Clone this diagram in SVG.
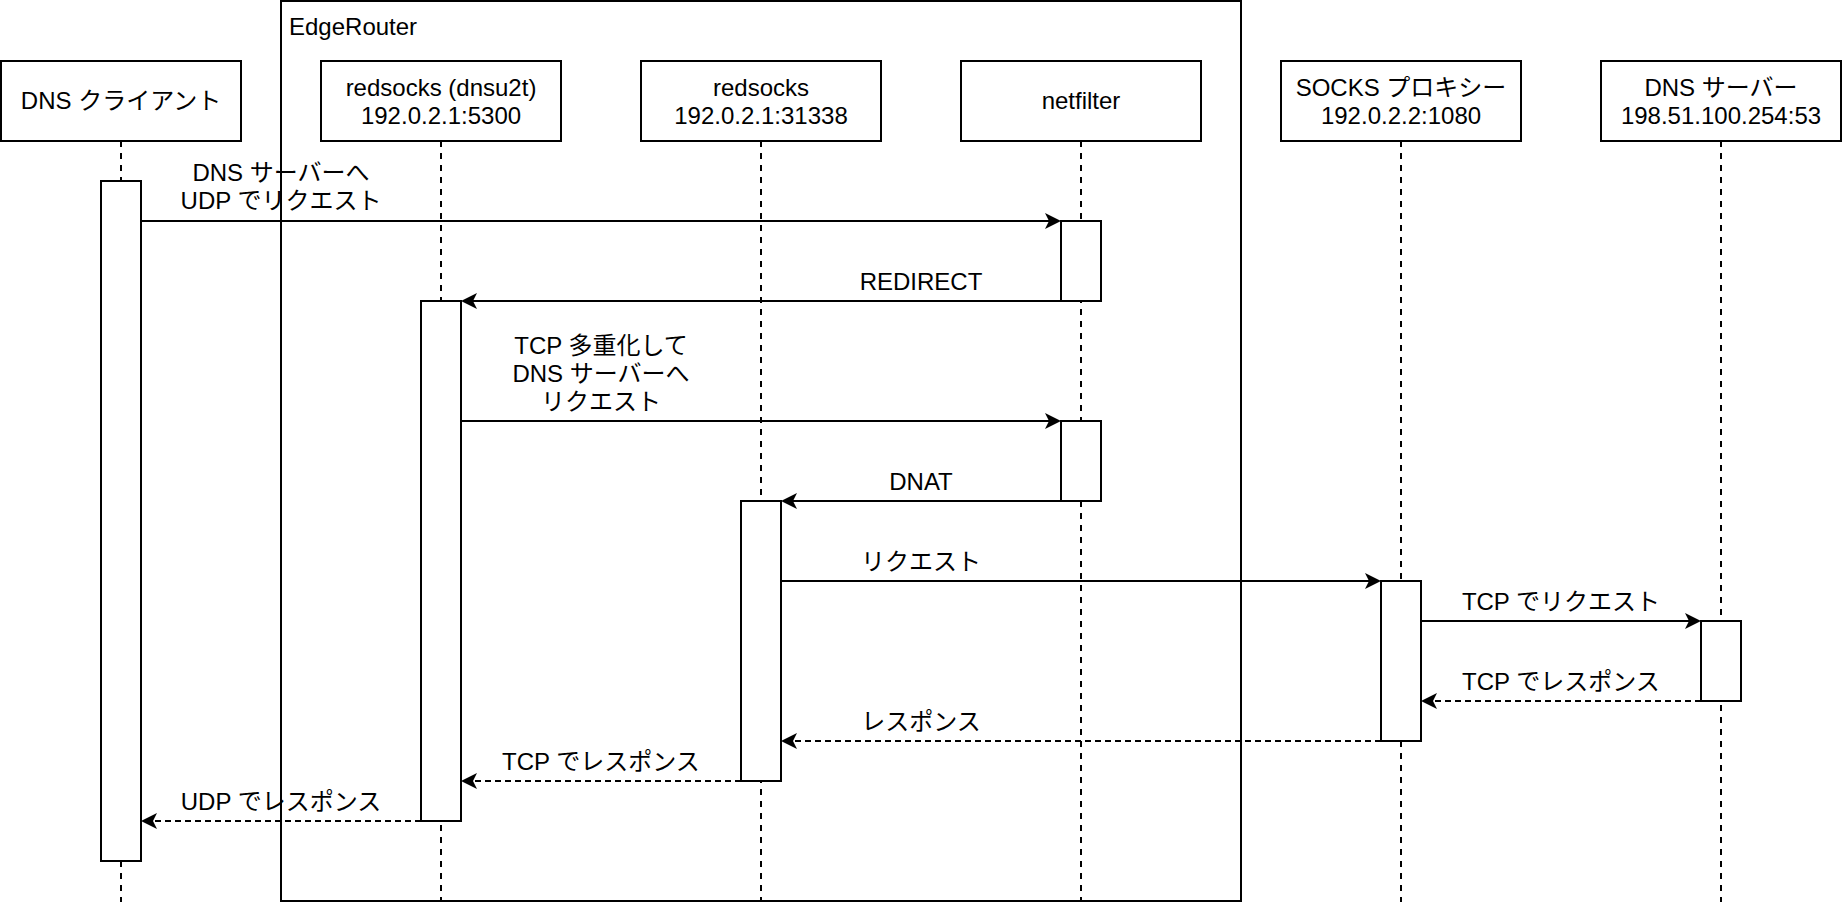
<svg xmlns="http://www.w3.org/2000/svg" width="1842" height="902" viewBox="0 0 1842 902">
<style>
  .box { fill: #ffffff; stroke: #000000; stroke-width: 2; }
  .frame { fill: none; stroke: #000000; stroke-width: 2; }
  .life { fill: none; stroke: #000000; stroke-width: 2; stroke-dasharray: 6 6; }
  .msg { fill: none; stroke: #000000; stroke-width: 2; marker-end: url(#arrow); }
  .ret { fill: none; stroke: #000000; stroke-width: 2; stroke-dasharray: 6 4; marker-end: url(#arrow); }
  text { font-family: "Liberation Sans", "Noto Sans CJK JP", Arial, sans-serif; font-size: 24px; fill: #000000; }
  .c { text-anchor: middle; }
</style>
<defs>
  <marker id="arrow" markerUnits="userSpaceOnUse" viewBox="0 0 16 16" refX="12" refY="8" markerWidth="16" markerHeight="16" orient="auto">
    <path d="M0,0 L16,8 L0,16 L4,8 Z" fill="#000000" stroke="none"/>
  </marker>
</defs>
<rect width="1842" height="902" fill="#ffffff"/>

<g id="edgerouter">
  <rect class="frame" x="281" y="1" width="960" height="900"/>
  <text x="289" y="35">EdgeRouter</text>
</g>

<g id="dns-client">
  <line class="life" x1="121" y1="141" x2="121" y2="902"/>
  <rect class="box" x="1" y="61" width="240" height="80"/>
  <text class="c" x="121" y="109">DNS クライアント</text>
  <rect class="box" x="101" y="181" width="40" height="680"/>
</g>

<g id="redsocks-dnsu2t">
  <line class="life" x1="441" y1="141" x2="441" y2="902"/>
  <rect class="box" x="321" y="61" width="240" height="80"/>
  <text class="c" x="441" y="96">redsocks (dnsu2t)</text>
  <text class="c" x="441" y="124">192.0.2.1:5300</text>
  <rect class="box" x="421" y="301" width="40" height="520"/>
</g>

<g id="redsocks">
  <line class="life" x1="761" y1="141" x2="761" y2="902"/>
  <rect class="box" x="641" y="61" width="240" height="80"/>
  <text class="c" x="761" y="96">redsocks</text>
  <text class="c" x="761" y="124">192.0.2.1:31338</text>
  <rect class="box" x="741" y="501" width="40" height="280"/>
</g>

<g id="netfilter">
  <line class="life" x1="1081" y1="141" x2="1081" y2="902"/>
  <rect class="box" x="961" y="61" width="240" height="80"/>
  <text class="c" x="1081" y="109">netfilter</text>
  <rect class="box" x="1061" y="221" width="40" height="80"/>
  <rect class="box" x="1061" y="421" width="40" height="80"/>
</g>

<g id="socks-proxy">
  <line class="life" x1="1401" y1="141" x2="1401" y2="902"/>
  <rect class="box" x="1281" y="61" width="240" height="80"/>
  <text class="c" x="1401" y="96">SOCKS プロキシー</text>
  <text class="c" x="1401" y="124">192.0.2.2:1080</text>
  <rect class="box" x="1381" y="581" width="40" height="160"/>
</g>

<g id="dns-server">
  <line class="life" x1="1721" y1="141" x2="1721" y2="902"/>
  <rect class="box" x="1601" y="61" width="240" height="80"/>
  <text class="c" x="1721" y="96">DNS サーバー</text>
  <text class="c" x="1721" y="124">198.51.100.254:53</text>
  <rect class="box" x="1701" y="621" width="40" height="80"/>
</g>

<g id="connectors">
  <path class="msg" d="M141,221 H1057"/>
  <text class="c" x="281" y="181">DNS サーバーへ</text>
  <text class="c" x="281" y="209">UDP でリクエスト</text>

  <path class="msg" d="M1061,301 H465"/>
  <text class="c" x="921" y="290">REDIRECT</text>

  <path class="msg" d="M461,421 H1057"/>
  <text class="c" x="601" y="354">TCP 多重化して</text>
  <text class="c" x="601" y="382">DNS サーバーへ</text>
  <text class="c" x="601" y="410">リクエスト</text>

  <path class="msg" d="M1061,501 H785"/>
  <text class="c" x="921" y="490">DNAT</text>

  <path class="msg" d="M781,581 H1377"/>
  <text class="c" x="921" y="570">リクエスト</text>

  <path class="msg" d="M1421,621 H1697"/>
  <text class="c" x="1561" y="610">TCP でリクエスト</text>

  <path class="ret" d="M1701,701 H1425"/>
  <text class="c" x="1561" y="690">TCP でレスポンス</text>

  <path class="ret" d="M1381,741 H785"/>
  <text class="c" x="921" y="730">レスポンス</text>

  <path class="ret" d="M741,781 H465"/>
  <text class="c" x="601" y="770">TCP でレスポンス</text>

  <path class="ret" d="M421,821 H145"/>
  <text class="c" x="281" y="810">UDP でレスポンス</text>
</g>
</svg>
